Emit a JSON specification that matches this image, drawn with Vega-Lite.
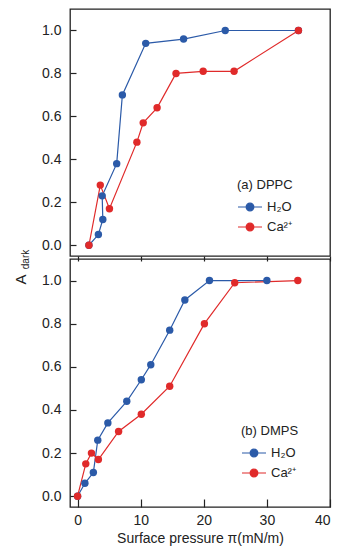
{
  "$schema": "https://vega.github.io/schema/vega-lite/v6.json",
  "padding": {"left": 12, "top": 8, "right": 5, "bottom": 5},
  "bounds": "flush",
  "spacing": 3,
  "datasets": {
    "dppc": [
      {"medium": "H₂O", "order": 1, "pressure": 1.8, "adark": 0.0},
      {"medium": "H₂O", "order": 2, "pressure": 3.3, "adark": 0.05},
      {"medium": "H₂O", "order": 3, "pressure": 4.0, "adark": 0.12},
      {"medium": "H₂O", "order": 4, "pressure": 3.9, "adark": 0.23},
      {"medium": "H₂O", "order": 5, "pressure": 6.2, "adark": 0.38},
      {"medium": "H₂O", "order": 6, "pressure": 7.1, "adark": 0.70},
      {"medium": "H₂O", "order": 7, "pressure": 10.8, "adark": 0.94},
      {"medium": "H₂O", "order": 8, "pressure": 16.8, "adark": 0.96},
      {"medium": "H₂O", "order": 9, "pressure": 23.4, "adark": 1.0},
      {"medium": "H₂O", "order": 10, "pressure": 35.0, "adark": 1.0},
      {"medium": "Ca²⁺", "order": 1, "pressure": 1.8, "adark": 0.0},
      {"medium": "Ca²⁺", "order": 2, "pressure": 3.6, "adark": 0.28},
      {"medium": "Ca²⁺", "order": 3, "pressure": 5.05, "adark": 0.17},
      {"medium": "Ca²⁺", "order": 4, "pressure": 9.4, "adark": 0.48},
      {"medium": "Ca²⁺", "order": 5, "pressure": 10.4, "adark": 0.57},
      {"medium": "Ca²⁺", "order": 6, "pressure": 12.6, "adark": 0.64},
      {"medium": "Ca²⁺", "order": 7, "pressure": 15.6, "adark": 0.80},
      {"medium": "Ca²⁺", "order": 8, "pressure": 19.9, "adark": 0.81},
      {"medium": "Ca²⁺", "order": 9, "pressure": 24.8, "adark": 0.81},
      {"medium": "Ca²⁺", "order": 10, "pressure": 35.0, "adark": 1.0}
    ],
    "dmps": [
      {"medium": "H₂O", "order": 1, "pressure": 0.0, "adark": 0.0},
      {"medium": "H₂O", "order": 2, "pressure": 1.16, "adark": 0.06},
      {"medium": "H₂O", "order": 3, "pressure": 2.5, "adark": 0.11},
      {"medium": "H₂O", "order": 4, "pressure": 3.2, "adark": 0.26},
      {"medium": "H₂O", "order": 5, "pressure": 4.8, "adark": 0.34},
      {"medium": "H₂O", "order": 6, "pressure": 7.8, "adark": 0.44},
      {"medium": "H₂O", "order": 7, "pressure": 10.1, "adark": 0.54},
      {"medium": "H₂O", "order": 8, "pressure": 11.6, "adark": 0.61},
      {"medium": "H₂O", "order": 9, "pressure": 14.6, "adark": 0.77},
      {"medium": "H₂O", "order": 10, "pressure": 17.0, "adark": 0.91},
      {"medium": "H₂O", "order": 11, "pressure": 20.9, "adark": 1.0},
      {"medium": "H₂O", "order": 12, "pressure": 30.0, "adark": 1.0},
      {"medium": "Ca²⁺", "order": 1, "pressure": 0.0, "adark": 0.0},
      {"medium": "Ca²⁺", "order": 2, "pressure": 1.3, "adark": 0.15},
      {"medium": "Ca²⁺", "order": 3, "pressure": 2.2, "adark": 0.20},
      {"medium": "Ca²⁺", "order": 4, "pressure": 3.3, "adark": 0.17},
      {"medium": "Ca²⁺", "order": 5, "pressure": 6.5, "adark": 0.30},
      {"medium": "Ca²⁺", "order": 6, "pressure": 10.1, "adark": 0.38},
      {"medium": "Ca²⁺", "order": 7, "pressure": 14.6, "adark": 0.51},
      {"medium": "Ca²⁺", "order": 8, "pressure": 20.1, "adark": 0.80},
      {"medium": "Ca²⁺", "order": 9, "pressure": 24.9, "adark": 0.99},
      {"medium": "Ca²⁺", "order": 10, "pressure": 34.9, "adark": 1.0}
    ]
  },
  "resolve": {"scale": {"color": "independent"}, "legend": {"color": "independent"}},
  "vconcat": [
    {
      "width": 260,
      "height": 247,
      "data": {"name": "dppc"},
      "encoding": {
        "x": {"field": "pressure", "type": "quantitative",
              "scale": {"domain": [-1.2, 40], "nice": false, "zero": false},
              "axis": {"values": [0, 10, 20, 30, 40], "labels": false, "title": null, "tickSize": 5}},
        "y": {"field": "adark", "type": "quantitative",
              "scale": {"domain": [-0.05, 1.1], "nice": false, "zero": false},
              "axis": {"values": [0, 0.2, 0.4, 0.6, 0.8, 1.0], "format": ".1f", "title": "dark",
                       "titleFontSize": 10, "titleX": -45, "titleY": 250, "titleAlign": "center", "titleBaseline": "middle", "titleAngle": 270}},
        "color": {"field": "medium", "type": "nominal",
                  "scale": {"domain": ["H₂O", "Ca²⁺"], "range": ["#2b5aa8", "#e02a2a"]},
                  "legend": {"title": "(a) DPPC", "orient": "none", "legendX": 167, "legendY": 170}},
        "order": {"field": "order", "type": "quantitative"}
      },
      "layer": [
        {"mark": {"type": "line", "strokeWidth": 1.2}},
        {"mark": {"type": "point", "filled": true, "size": 55, "opacity": 1}}
      ]
    },
    {
      "width": 260,
      "height": 248,
      "data": {"name": "dmps"},
      "encoding": {
        "x": {"field": "pressure", "type": "quantitative",
              "scale": {"domain": [-1.2, 40], "nice": false, "zero": false},
              "axis": {"values": [0, 10, 20, 30, 40], "title": "Surface pressure π(mN/m)", "tickSize": -8, "labelPadding": 14, "titlePadding": 4}},
        "y": {"field": "adark", "type": "quantitative",
              "scale": {"domain": [-0.05, 1.1], "nice": false, "zero": false},
              "axis": {"values": [0, 0.2, 0.4, 0.6, 0.8, 1.0], "format": ".1f", "title": "A",
                       "titleFontSize": 15, "titleX": -50, "titleY": 20, "titleAlign": "center", "titleBaseline": "middle", "titleAngle": 270}},
        "color": {"field": "medium", "type": "nominal",
                  "scale": {"domain": ["H₂O", "Ca²⁺"], "range": ["#2b5aa8", "#e02a2a"]},
                  "legend": {"title": "(b) DMPS", "orient": "none", "legendX": 171, "legendY": 166}},
        "order": {"field": "order", "type": "quantitative"}
      },
      "layer": [
        {"mark": {"type": "line", "strokeWidth": 1.2}},
        {"mark": {"type": "point", "filled": true, "size": 55, "opacity": 1}}
      ]
    }
  ],
  "config": {
    "font": "Liberation Sans",
    "view": {"stroke": "#222", "strokeWidth": 1.3},
    "axis": {
      "domain": false,
      "grid": false,
      "tickColor": "#222",
      "tickWidth": 1.2,
      "labelColor": "#222",
      "labelFontSize": 14,
      "titleColor": "#222",
      "titleFontWeight": "normal",
      "titleFontSize": 14
    },
    "axisY": {"tickSize": -6, "labelPadding": 15},
    "legend": {
      "titleFontSize": 13,
      "titleFontWeight": "normal",
      "titleColor": "#222",
      "labelFontSize": 13,
      "labelColor": "#222",
      "symbolType": "M-1,0L1,0M-0.32,0A0.32,0.32,0,1,1,0.32,0A0.32,0.32,0,1,1,-0.32,0Z",
      "symbolSize": 576,
      "symbolStrokeWidth": 1.2,
      "rowPadding": -1,
      "titlePadding": 2,
      "labelOffset": 4
    }
  }
}
